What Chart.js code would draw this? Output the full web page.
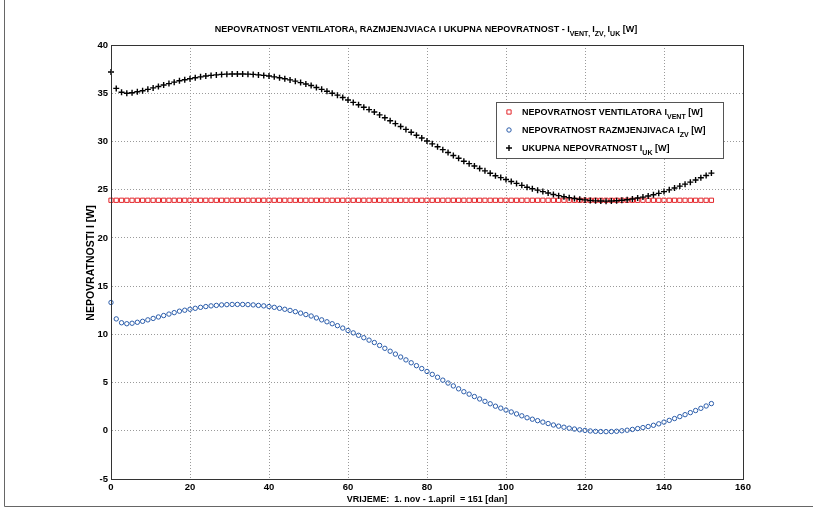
<!DOCTYPE html>
<html>
<head>
<meta charset="utf-8">
<title>Nepovratnost</title>
<script src="https://cdn.jsdelivr.net/npm/chart.js@4.4.1/dist/chart.umd.min.js"></script>
<style>
  html, body { margin: 0; padding: 0; background: #fff; }
  #wrap { position: relative; width: 813px; height: 514px; }
</style>
</head>
<body>
<div id="wrap"><canvas id="chart" width="813" height="514"></canvas></div>
<script>
// days from 1. nov
const days = [
  0, 1.33, 2.67, 4, 5.33, 6.67, 8, 9.33, 10.67, 12, 13.33, 14.67, 16, 17.33, 18.67,
  20, 21.33, 22.67, 24, 25.33, 26.67, 28, 29.33, 30.67, 32, 33.33, 34.67, 36, 37.33, 38.67,
  40, 41.33, 42.67, 44, 45.33, 46.67, 48, 49.33, 50.67, 52, 53.33, 54.67, 56, 57.33, 58.67,
  60, 61.33, 62.67, 64, 65.33, 66.67, 68, 69.33, 70.67, 72, 73.33, 74.67, 76, 77.33, 78.67,
  80, 81.33, 82.67, 84, 85.33, 86.67, 88, 89.33, 90.67, 92, 93.33, 94.67, 96, 97.33, 98.67,
  100, 101.33, 102.67, 104, 105.33, 106.67, 108, 109.33, 110.67, 112, 113.33, 114.67, 116, 117.33, 118.67,
  120, 121.33, 122.67, 124, 125.33, 126.67, 128, 129.33, 130.67, 132, 133.33, 134.67, 136, 137.33, 138.67,
  140, 141.33, 142.67, 144, 145.33, 146.67, 148, 149.33, 150.67, 152
];

// ventilator loss, W (constant)
const iVent = [
  23.9, 23.9, 23.9, 23.9, 23.9, 23.9, 23.9, 23.9, 23.9, 23.9, 23.9, 23.9, 23.9, 23.9, 23.9,
  23.9, 23.9, 23.9, 23.9, 23.9, 23.9, 23.9, 23.9, 23.9, 23.9, 23.9, 23.9, 23.9, 23.9, 23.9,
  23.9, 23.9, 23.9, 23.9, 23.9, 23.9, 23.9, 23.9, 23.9, 23.9, 23.9, 23.9, 23.9, 23.9, 23.9,
  23.9, 23.9, 23.9, 23.9, 23.9, 23.9, 23.9, 23.9, 23.9, 23.9, 23.9, 23.9, 23.9, 23.9, 23.9,
  23.9, 23.9, 23.9, 23.9, 23.9, 23.9, 23.9, 23.9, 23.9, 23.9, 23.9, 23.9, 23.9, 23.9, 23.9,
  23.9, 23.9, 23.9, 23.9, 23.9, 23.9, 23.9, 23.9, 23.9, 23.9, 23.9, 23.9, 23.9, 23.9, 23.9,
  23.9, 23.9, 23.9, 23.9, 23.9, 23.9, 23.9, 23.9, 23.9, 23.9, 23.9, 23.9, 23.9, 23.9, 23.9,
  23.9, 23.9, 23.9, 23.9, 23.9, 23.9, 23.9, 23.9, 23.9, 23.9
];

// heat exchanger loss, W
const iZv = [
  13.3, 11.6, 11.2, 11.1, 11.15, 11.25, 11.35, 11.5, 11.65, 11.8, 11.95, 12.1, 12.25, 12.4, 12.5,
  12.6, 12.7, 12.8, 12.88, 12.95, 13.0, 13.05, 13.08, 13.1, 13.1, 13.1, 13.08, 13.05, 13.0, 12.95,
  12.88, 12.8, 12.7, 12.6, 12.48, 12.35, 12.2, 12.05, 11.9, 11.7, 11.5, 11.3, 11.1, 10.9, 10.65,
  10.4, 10.15, 9.9, 9.65, 9.4, 9.15, 8.85, 8.55, 8.25, 7.95, 7.65, 7.35, 7.05, 6.75, 6.45,
  6.15, 5.85, 5.55, 5.25, 4.95, 4.65, 4.35, 4.05, 3.8, 3.55, 3.3, 3.05, 2.8, 2.55, 2.35,
  2.15, 1.95, 1.75, 1.55, 1.35, 1.2, 1.05, 0.9, 0.75, 0.6, 0.48, 0.37, 0.27, 0.18, 0.1,
  0.04, -0.02, -0.06, -0.08, -0.09, -0.08, -0.05, 0.0, 0.06, 0.14, 0.23, 0.33, 0.44, 0.57, 0.72,
  0.9, 1.08, 1.27, 1.47, 1.67, 1.88, 2.1, 2.33, 2.57, 2.82
];

// total loss, W
const iUk = [
  37.2, 35.5, 35.1, 35.0, 35.05, 35.15, 35.25, 35.4, 35.55, 35.7, 35.85, 36.0, 36.15, 36.3, 36.4,
  36.5, 36.6, 36.7, 36.78, 36.85, 36.9, 36.95, 36.98, 37.0, 37.0, 37.0, 36.98, 36.95, 36.9, 36.85,
  36.78, 36.7, 36.6, 36.5, 36.38, 36.25, 36.1, 35.95, 35.8, 35.6, 35.4, 35.2, 35.0, 34.8, 34.55,
  34.3, 34.05, 33.8, 33.55, 33.3, 33.05, 32.75, 32.45, 32.15, 31.85, 31.55, 31.25, 30.95, 30.65, 30.35,
  30.05, 29.75, 29.45, 29.15, 28.85, 28.55, 28.25, 27.95, 27.7, 27.45, 27.2, 26.95, 26.7, 26.45, 26.25,
  26.05, 25.85, 25.65, 25.45, 25.25, 25.1, 24.95, 24.8, 24.65, 24.5, 24.38, 24.27, 24.17, 24.08, 24.0,
  23.94, 23.88, 23.84, 23.82, 23.81, 23.82, 23.85, 23.9, 23.96, 24.04, 24.13, 24.23, 24.34, 24.47, 24.62,
  24.8, 24.98, 25.17, 25.37, 25.57, 25.78, 26.0, 26.23, 26.47, 26.72
];

const FONT = '"Liberation Sans", Arial, Helvetica, sans-serif';
const RED = '#e3262b';
const BLUE = '#2a5caa';

function pts(ys) {
  return days.map((d, i) => ({ x: d, y: ys[i] }));
}

// draws text made of normal and subscript pieces
function richText(ctx, parts, x, y, align, size) {
  const sub = Math.round(size * 0.8);
  let total = 0;
  parts.forEach(p => {
    ctx.font = 'bold ' + (p.sub ? sub : size) + 'px ' + FONT;
    total += ctx.measureText(p.t).width;
  });
  let cx = align === 'center' ? x - total / 2 : x;
  ctx.textAlign = 'left';
  ctx.textBaseline = 'alphabetic';
  parts.forEach(p => {
    ctx.font = 'bold ' + (p.sub ? sub : size) + 'px ' + FONT;
    ctx.fillText(p.t, cx, p.sub ? y + 4 : y);
    cx += ctx.measureText(p.t).width;
  });
}

// small marker for a legend row, same style as the dataset points
function legendMarker(ctx, ds, x, y) {
  const r = ds.pointRadius;
  ctx.strokeStyle = ds.borderColor;
  ctx.lineWidth = ds.pointBorderWidth;
  ctx.beginPath();
  if (ds.pointStyle === 'rect') {
    const s = r * Math.SQRT1_2;
    ctx.rect(x - s, y - s, 2 * s, 2 * s);
  } else if (ds.pointStyle === 'circle') {
    ctx.arc(x, y, r, 0, Math.PI * 2);
  } else {
    ctx.moveTo(x - r, y);
    ctx.lineTo(x + r, y);
    ctx.moveTo(x, y - r);
    ctx.lineTo(x, y + r);
  }
  ctx.stroke();
}

const decorations = {
  id: 'decorations',
  afterDraw(chart) {
    const ctx = chart.ctx;
    const a = chart.chartArea;
    ctx.save();

    // axes box
    ctx.strokeStyle = '#333';
    ctx.lineWidth = 1;
    ctx.strokeRect(a.left + 0.5, a.top + 0.5, a.right - a.left, a.bottom - a.top);

    ctx.fillStyle = '#000';

    // title
    richText(ctx, [
      { t: 'NEPOVRATNOST VENTILATORA, RAZMJENJVIACA I UKUPNA NEPOVRATNOST - I' },
      { t: 'VENT', sub: true }, { t: ', ', sub: true },
      { t: 'I' }, { t: 'ZV', sub: true }, { t: ', ', sub: true },
      { t: 'I' }, { t: 'UK', sub: true }, { t: ' [W]' }
    ], 426, 32, 'center', 9);

    // x axis label
    ctx.font = 'bold 9px ' + FONT;
    ctx.textAlign = 'center';
    ctx.textBaseline = 'alphabetic';
    ctx.fillText('VRIJEME:  1. nov - 1.april  = 151 [dan]', 427, 502);

    // y axis label
    ctx.save();
    ctx.font = 'bold 10.5px ' + FONT;
    ctx.translate(94, 263);
    ctx.rotate(-Math.PI / 2);
    ctx.fillText('NEPOVRATNOSTI I [W]', 0, 0);
    ctx.restore();

    // legend
    const lx = 496, ly = 102, lw = 227, lh = 56;
    ctx.fillStyle = '#fff';
    ctx.fillRect(lx, ly, lw, lh);
    ctx.strokeStyle = '#555';
    ctx.lineWidth = 1;
    ctx.strokeRect(lx + 0.5, ly + 0.5, lw, lh);

    const rows = [
      { ds: 0, parts: [{ t: 'NEPOVRATNOST VENTILATORA I' }, { t: 'VENT', sub: true }, { t: ' [W]' }] },
      { ds: 1, parts: [{ t: 'NEPOVRATNOST RAZMJENJIVACA I' }, { t: 'ZV', sub: true }, { t: ' [W]' }] },
      { ds: 2, parts: [{ t: 'UKUPNA NEPOVRATNOST I' }, { t: 'UK', sub: true }, { t: ' [W]' }] }
    ];
    rows.forEach((r, i) => {
      const ry = 112 + i * 18;
      legendMarker(ctx, chart.data.datasets[r.ds], 509, ry);
      ctx.fillStyle = '#000';
      richText(ctx, r.parts, 522, ry + 3, 'left', 9);
    });

    // outer frame of the figure
    ctx.strokeStyle = '#666';
    ctx.lineWidth = 1;
    ctx.beginPath();
    ctx.moveTo(4.5, 0);
    ctx.lineTo(4.5, 506.5);
    ctx.lineTo(813, 506.5);
    ctx.stroke();

    ctx.restore();
  }
};

const tickFont = { family: FONT, size: 9.5, weight: 'bold' };

new Chart(document.getElementById('chart'), {
  type: 'scatter',
  data: {
    datasets: [
      {
        label: 'NEPOVRATNOST VENTILATORA',
        data: pts(iVent),
        pointStyle: 'rect',
        pointRadius: 3,
        pointBorderWidth: 1,
        borderColor: RED,
        backgroundColor: 'rgba(0,0,0,0)',
        clip: false,
        order: 3
      },
      {
        label: 'NEPOVRATNOST RAZMJENJIVACA',
        data: pts(iZv),
        pointStyle: 'circle',
        pointRadius: 2.2,
        pointBorderWidth: 1,
        borderColor: BLUE,
        backgroundColor: 'rgba(0,0,0,0)',
        clip: false,
        order: 2
      },
      {
        label: 'UKUPNA NEPOVRATNOST',
        data: pts(iUk),
        pointStyle: 'cross',
        pointRadius: 3,
        pointBorderWidth: 1.4,
        borderColor: '#000',
        backgroundColor: '#000',
        clip: false,
        order: 1
      }
    ]
  },
  options: {
    responsive: false,
    animation: false,
    events: [],
    layout: { padding: { top: 45, right: 70, left: 0, bottom: 0 } },
    plugins: {
      legend: { display: false },
      title: { display: false },
      tooltip: { enabled: false }
    },
    scales: {
      x: {
        type: 'linear',
        min: 0,
        max: 160,
        afterFit: s => { s.height = 35; },
        ticks: { stepSize: 20, font: tickFont, color: '#000', padding: 3, maxRotation: 0 },
        grid: { color: '#9a9a9a', lineWidth: 1, drawTicks: false },
        border: { color: '#333', width: 1, dash: [1, 2] }
      },
      y: {
        min: -5,
        max: 40,
        afterFit: s => { s.width = 111; },
        ticks: { stepSize: 5, font: tickFont, color: '#000', padding: 3 },
        grid: { color: '#9a9a9a', lineWidth: 1, drawTicks: false },
        border: { color: '#333', width: 1, dash: [1, 2] }
      }
    }
  },
  plugins: [decorations]
});
</script>
</body>
</html>
